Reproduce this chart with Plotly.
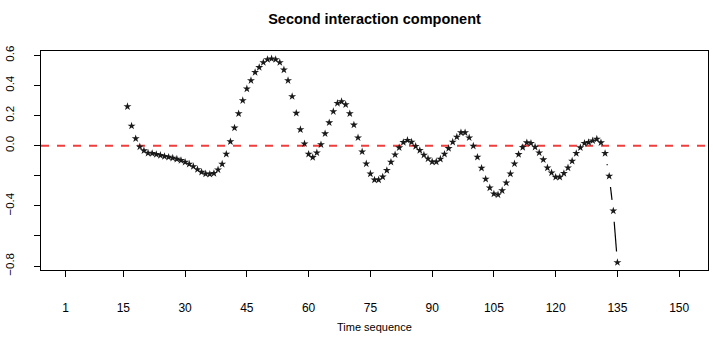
import math
import plotly.graph_objects as go

# ---------------- data ----------------
time_seq = list(range(16, 136))
component = [
    0.260, 0.131, 0.047, -0.007, -0.033, -0.049, -0.051, -0.058, -0.064, -0.071,   # 16-25
    -0.076, -0.082, -0.089, -0.098, -0.109, -0.122, -0.138, -0.158, -0.176, -0.187,  # 26-35
    -0.189, -0.184, -0.160, -0.122, -0.056, 0.027, 0.118, 0.213, 0.300, 0.378,       # 36-45
    0.433, 0.487, 0.520, 0.553, 0.573, 0.578, 0.573, 0.553, 0.504, 0.433,            # 46-55
    0.327, 0.216, 0.107, 0.013, -0.056, -0.078, -0.047, 0.007, 0.080, 0.153,         # 56-65
    0.227, 0.282, 0.293, 0.273, 0.213, 0.138, 0.053, -0.040, -0.120, -0.187,         # 66-75
    -0.227, -0.227, -0.207, -0.164, -0.109, -0.060, -0.013, 0.022, 0.036, 0.024,     # 76-85
    -0.004, -0.031, -0.062, -0.087, -0.107, -0.107, -0.089, -0.056, -0.018, 0.024,   # 86-95
    0.058, 0.087, 0.087, 0.053, -0.002, -0.076, -0.149, -0.222, -0.280, -0.320,      # 96-105
    -0.326, -0.298, -0.247, -0.187, -0.120, -0.058, -0.011, 0.020, 0.016, -0.009,    # 106-115
    -0.047, -0.093, -0.147, -0.180, -0.209, -0.209, -0.184, -0.147, -0.102, -0.051,  # 116-125
    -0.013, 0.016, 0.022, 0.033, 0.044, 0.020, -0.051, -0.202, -0.433, -0.776,       # 126-135
]
x_ticks = [1, 15, 30, 45, 60, 75, 90, 105, 120, 135, 150]
y_ticks = [0.6, 0.4, 0.2, 0.0, -0.2, -0.4, -0.6, -0.8]
y_tick_text = ["0.6", "0.4", "0.2", "0.0", "", "\u22120.4", "", "\u22120.8"]
ref_level = 0.0

title_text = "Second interaction component"
x_title = "Time sequence"

# ---------------- layout geometry ----------------
W, H = 713, 337
ML, MR, MT, MB = 39, 4, 51, 67
x_range = [-5, 157]
y_range = [-0.826, 0.629]
plot_w = W - ML - MR
plot_h = H - MT - MB
sx = plot_w / (x_range[1] - x_range[0])
sy = plot_h / (y_range[1] - y_range[0])

# R type="b": connecting lines leave a gap around each point
gap_px = 11
lx, ly = [], []
for i in range(len(time_seq) - 1):
    x0, y0 = time_seq[i], component[i]
    x1, y1 = time_seq[i + 1], component[i + 1]
    dpx = math.hypot((x1 - x0) * sx, (y1 - y0) * sy)
    if dpx > 2 * gap_px:
        t = gap_px / dpx
        lx += [x0 + t * (x1 - x0), x1 - t * (x1 - x0), None]
        ly += [y0 + t * (y1 - y0), y1 - t * (y1 - y0), None]

FONT = "Liberation Sans, Arial, Helvetica, sans-serif"

fig = go.Figure()
fig.add_trace(go.Scatter(x=lx, y=ly, mode="lines",
                         line=dict(color="black", width=1.2),
                         hoverinfo="skip", showlegend=False))
fig.add_trace(go.Scatter(x=time_seq, y=component, mode="markers",
                         marker=dict(symbol="star", size=6, color="#1a1a1a",
                                     line=dict(width=0)),
                         showlegend=False))

fig.add_shape(type="line", xref="paper", x0=0, x1=1, yref="y",
              y0=ref_level, y1=ref_level,
              line=dict(color="#F03E3E", width=2, dash="8px,8px"), layer="below")

fig.update_layout(
    width=W, height=H,
    margin=dict(l=ML, r=MR, t=MT, b=MB, pad=0),
    paper_bgcolor="white", plot_bgcolor="white",
    font=dict(family=FONT, color="black", size=12),
    title=dict(text="<b>" + title_text + "</b>", x=0.5, xref="paper",
               y=1 - 19 / H, yref="container", xanchor="center", yanchor="middle",
               font=dict(size=14.5, family=FONT, color="black")),
    xaxis=dict(range=x_range, tickvals=x_ticks, ticktext=[str(v) for v in x_ticks],
               ticks="outside", ticklen=6, tickwidth=1, tickcolor="black",
               showline=True, linecolor="black", linewidth=1, mirror=True,
               showgrid=False, zeroline=False, ticklabelstandoff=21,
               tickfont=dict(size=12)),
    yaxis=dict(range=y_range, tickvals=y_ticks, ticktext=y_tick_text,
               ticks="outside", ticklen=6, tickwidth=1, tickcolor="black",
               showline=True, linecolor="black", linewidth=1, mirror=True,
               showgrid=False, zeroline=False, tickangle=-90,
               ticklabelstandoff=15, tickfont=dict(size=11.5)),
    annotations=[dict(text=x_title, xref="paper", yref="paper", x=0.5,
                      y=-(327 - (H - MB)) / plot_h, xanchor="center",
                      yanchor="middle", showarrow=False,
                      font=dict(size=11, family=FONT, color="black"))],
)

fig.write_html("out.html")
